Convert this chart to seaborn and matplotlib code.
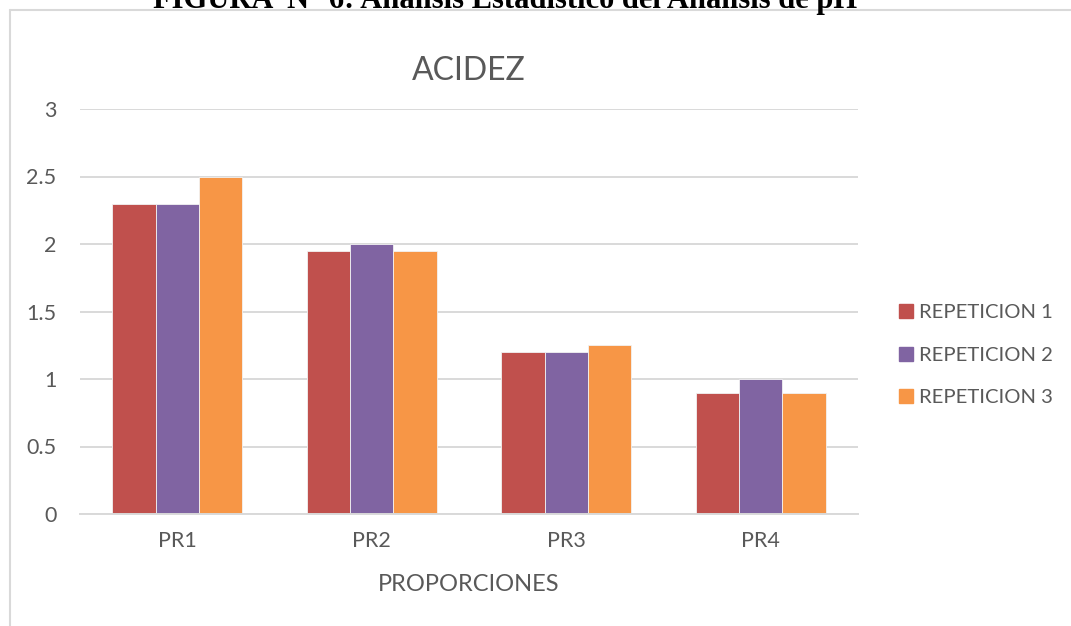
import matplotlib
matplotlib.use("Agg")
import matplotlib.pyplot as plt
import seaborn as sns
import pandas as pd
from matplotlib.lines import Line2D

# data
proporciones = ["PR1", "PR2", "PR3", "PR4"]
repeticion_1 = [2.3, 1.95, 1.2, 0.9]
repeticion_2 = [2.3, 2.0, 1.2, 1.0]
repeticion_3 = [2.5, 1.95, 1.25, 0.9]
series_names = ["REPETICION 1", "REPETICION 2", "REPETICION 3"]
colors = ["#C0504D", "#8064A2", "#F79646"]

df = pd.DataFrame({
    "proporcion": proporciones * 3,
    "serie": [s for s in series_names for _ in proporciones],
    "acidez": repeticion_1 + repeticion_2 + repeticion_3,
})

sns.set_style("white")
plt.rcParams["font.family"] = ["Lato", "DejaVu Sans"]
text_color = "#595959"
grid_color = "#D9D9D9"

fig = plt.figure(figsize=(10.71, 6.26), dpi=100)
ax = fig.add_axes([80 / 1071, 1 - 514 / 626, 778 / 1071, 405 / 626])

sns.barplot(data=df, x="proporcion", y="acidez", hue="serie",
            palette=colors, saturation=1, width=0.67, gap=0, ax=ax,
            edgecolor="#F2F2F2", linewidth=0.6, legend=False)

ax.set_ylim(0, 3)
ax.set_yticks([0, 0.5, 1, 1.5, 2, 2.5, 3])
ax.set_yticklabels(["0", "0.5", "1", "1.5", "2", "2.5", "3"])
ax.yaxis.grid(True, color=grid_color, linewidth=1.4)
ax.set_axisbelow(True)
for side in ["top", "right", "left"]:
    ax.spines[side].set_visible(False)
ax.spines["bottom"].set_color(grid_color)
ax.spines["bottom"].set_linewidth(1.4)
ax.tick_params(axis="y", length=0, pad=17, labelsize=15.5, labelcolor=text_color)
ax.tick_params(axis="x", length=0, pad=12, labelsize=15.5, labelcolor=text_color)
ax.set_xlabel("PROPORCIONES", fontsize=17, color=text_color, labelpad=17)
ax.set_ylabel("")
ax.set_title("ACIDEZ", fontsize=23, color=text_color, pad=21)

handles = [Line2D([], [], marker="s", linestyle="", markersize=10,
                  markerfacecolor=c, markeredgecolor=c) for c in colors]
fig.legend(handles, series_names, loc="center left",
           bbox_to_anchor=(879 / 1071, 1 - 355 / 626), frameon=False,
           fontsize=14.6, labelcolor=text_color, handletextpad=0.15,
           labelspacing=1.25, handlelength=0.9)

# chart frame and the cut-off figure caption above it
fig.add_artist(Line2D([10 / 1071, 10 / 1071], [0, 1 - 10 / 626],
                      transform=fig.transFigure, color=grid_color, linewidth=1.5))
fig.add_artist(Line2D([10 / 1071, 1], [1 - 10 / 626, 1 - 10 / 626],
                      transform=fig.transFigure, color=grid_color, linewidth=1.5))
fig.text(505 / 1071, 1 - 8 / 626, "FIGURA  N° 6: Análisis Estadístico del Análisis de pH",
         ha="center", va="baseline", fontsize=22, fontweight="bold",
         family=["Liberation Serif", "DejaVu Serif"], color="black")

fig.savefig("out.png", dpi=100)
